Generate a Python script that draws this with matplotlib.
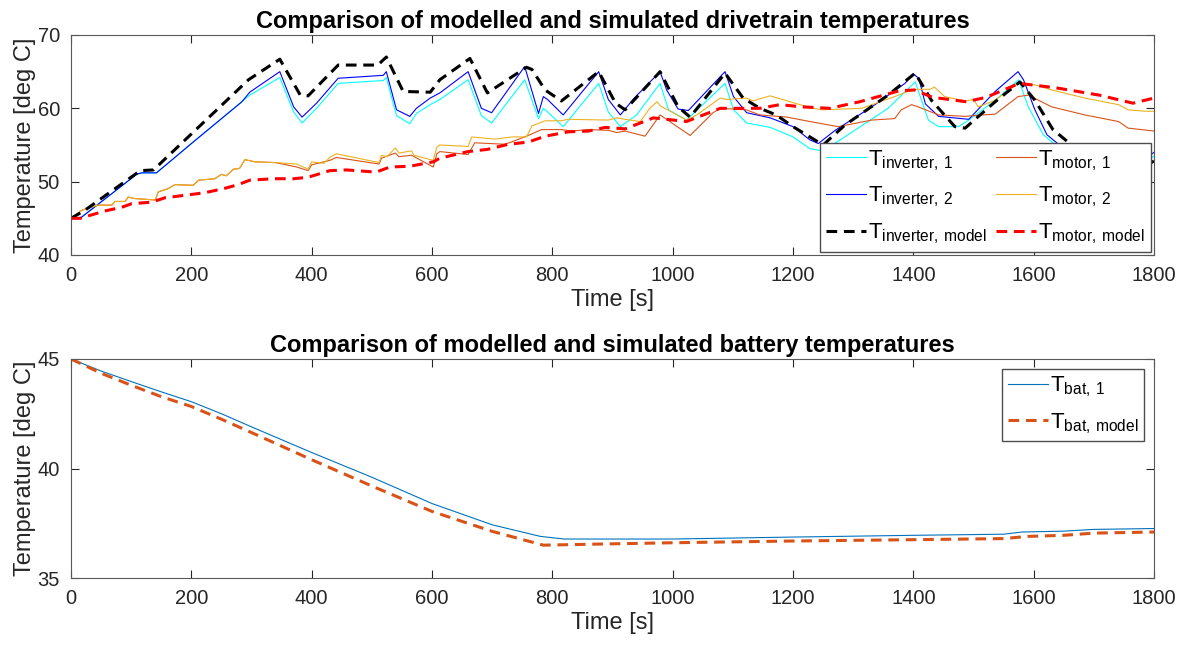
import matplotlib
matplotlib.use("Agg")
import matplotlib.pyplot as plt

plt.rcParams["font.family"] = ["Liberation Sans", "DejaVu Sans"]
plt.rcParams["mathtext.fontset"] = "custom"
plt.rcParams["mathtext.rm"] = "Liberation Sans"

# ---- drivetrain temperatures ----
t_inv1 = [0, 15, 109, 117, 142, 203, 284, 297, 347, 370, 384, 408, 444, 519, 524, 541, 563,
          574, 597, 613, 660, 682, 699, 754, 777, 785, 792, 818, 877, 893, 913, 940, 979,
          993, 1023, 1087, 1101, 1123, 1162, 1200, 1228, 1250, 1286, 1358, 1403, 1425,
          1442, 1475, 1492, 1536, 1575, 1591, 1616, 1680, 1760, 1800]
T_inv1 = [45, 45, 51.0, 51.2, 51.2, 55.4, 60.9, 61.8, 64.2, 59.5, 58.0, 60.0, 63.4, 63.8,
          64.2, 59.0, 57.9, 59.3, 60.5, 61.2, 63.9, 59.0, 58.0, 63.9, 58.6, 60.0, 59.5,
          57.5, 63.4, 59.5, 57.5, 59.1, 63.4, 59.8, 58.4, 63.4, 59.8, 58.0, 57.4, 56.1,
          54.5, 54.2, 56.1, 60.0, 63.6, 58.4, 57.5, 57.5, 58.4, 61.1, 63.9, 60.2, 56.4,
          52.0, 51.0, 53.5]

t_inv2 = [0, 15, 109, 117, 142, 203, 284, 297, 347, 370, 384, 408, 444, 519, 524, 541,
          563, 574, 597, 613, 660, 682, 699, 754, 777, 785, 792, 818, 877, 893, 913, 935,
          979, 990, 1009, 1026, 1087, 1101, 1123, 1162, 1200, 1228, 1242, 1270, 1331,
          1386, 1400, 1409, 1420, 1442, 1492, 1536, 1574, 1583, 1602, 1622, 1680, 1760,
          1800]
T_inv2 = [45, 45, 51.0, 51.2, 51.2, 55.4, 60.9, 62.2, 65.0, 60.2, 58.8, 60.7, 64.1, 64.5,
          65.0, 59.8, 58.9, 60.0, 61.4, 62.1, 65.0, 60.0, 59.4, 65.7, 59.3, 61.6, 61.2,
          59.1, 65.0, 61.2, 59.1, 61.3, 65.0, 62.5, 59.9, 59.7, 65.0, 61.6, 59.4, 58.7,
          57.5, 55.7, 55.2, 57.0, 60.2, 63.4, 64.7, 64.1, 60.6, 58.9, 58.5, 62.3, 65.0,
          63.9, 59.8, 56.4, 52.5, 51.5, 54.0]

t_inv_model = [0, 23, 115, 137, 295, 347, 381, 394, 444, 510, 524, 552, 597, 613, 663,
               692, 757, 766, 788, 815, 877, 905, 921, 979, 1009, 1029, 1087, 1117, 1145,
               1172, 1200, 1228, 1250, 1286, 1358, 1403, 1430, 1469, 1486, 1536, 1577,
               1602, 1632, 1700, 1770, 1800]
T_inv_model = [45, 46.1, 51.5, 51.6, 63.9, 66.7, 61.8, 61.7, 65.9, 65.9, 67.0, 62.3, 62.2,
               63.9, 66.8, 62.1, 65.6, 65.3, 62.5, 61.0, 65.0, 60.7, 59.8, 65.0, 60.2,
               58.8, 64.8, 61.4, 60.0, 59.1, 57.5, 56.1, 55.0, 57.7, 61.8, 64.8, 61.1,
               57.5, 57.3, 60.9, 63.6, 61.1, 57.1, 52.5, 51.5, 52.8]

t_mot1 = [0, 18, 45, 68, 73, 90, 95, 105, 140, 145, 160, 173, 203, 212, 239, 250, 258,
          270, 280, 289, 306, 340, 375, 394, 400, 430, 441, 512, 516, 539, 545, 566, 602,
          608, 613, 660, 671, 721, 735, 763, 782, 815, 832, 860, 893, 907, 921, 954, 979,
          1029, 1067, 1079, 1122, 1145, 1190, 1228, 1275, 1331, 1369, 1380, 1397, 1408,
          1442, 1486, 1514, 1536, 1574, 1591, 1630, 1685, 1741, 1757, 1779, 1800]
T_mot1 = [45, 46.1, 46.8, 46.8, 47.3, 47.3, 47.9, 47.7, 47.5, 48.6, 49.0, 49.6, 49.5, 50.2,
          50.4, 51.0, 50.8, 51.7, 51.8, 53.0, 52.7, 52.6, 52.0, 51.5, 52.3, 52.9, 53.3,
          52.4, 53.2, 53.9, 53.4, 53.6, 52.0, 53.8, 54.1, 53.7, 55.3, 55.1, 55.5, 56.4,
          57.1, 57.1, 56.9, 57.1, 57.0, 56.7, 56.9, 56.2, 59.1, 56.3, 59.4, 60.0, 59.8,
          59.1, 58.8, 58.2, 57.5, 58.4, 58.6, 59.8, 60.5, 60.2, 59.1, 58.9, 59.1, 59.2,
          61.6, 61.8, 60.2, 59.1, 58.2, 57.3, 57.1, 56.9]

t_mot2 = [0, 18, 45, 68, 73, 90, 95, 105, 140, 145, 160, 173, 203, 212, 239, 250, 258,
          270, 280, 289, 306, 340, 375, 394, 400, 420, 430, 441, 512, 516, 525, 539, 545,
          566, 570, 602, 608, 613, 660, 666, 705, 733, 757, 766, 788, 815, 826, 893, 907,
          921, 946, 962, 974, 980, 1023, 1040, 1079, 1090, 1122, 1134, 1145, 1162, 1228,
          1248, 1314, 1369, 1391, 1408, 1428, 1435, 1452, 1486, 1500, 1508, 1536, 1574,
          1602, 1630, 1685, 1741, 1757, 1785, 1800]
T_mot2 = [45, 46.1, 46.8, 46.8, 47.3, 47.3, 47.9, 47.7, 47.5, 48.6, 49.0, 49.6, 49.5, 50.2,
          50.4, 51.0, 50.8, 51.7, 51.8, 53.0, 52.7, 52.6, 52.4, 51.7, 52.7, 52.5, 53.3,
          53.8, 52.6, 53.6, 53.4, 54.6, 53.9, 54.2, 53.6, 52.9, 54.7, 55.0, 54.8, 56.1,
          55.8, 56.1, 56.1, 57.6, 58.3, 58.3, 58.5, 58.4, 58.7, 58.5, 58.2, 60.0, 60.9,
          60.3, 58.4, 59.1, 61.4, 61.2, 61.4, 61.0, 61.3, 61.7, 60.1, 59.8, 60.0, 61.6,
          62.3, 62.6, 62.6, 62.9, 61.6, 61.0, 61.2, 60.2, 61.1, 63.4, 63.2, 62.5, 61.4,
          60.5, 59.8, 59.6, 59.6]

t_mot_model = [0, 15, 56, 84, 101, 134, 156, 195, 223, 256, 278, 297, 336, 370, 394, 430,
               458, 507, 530, 563, 602, 613, 660, 692, 727, 760, 788, 827, 860, 888, 921,
               968, 1023, 1079, 1145, 1178, 1215, 1261, 1311, 1377, 1402, 1432, 1488,
               1521, 1576, 1637, 1709, 1765, 1800]
T_mot_model = [45, 45, 46.0, 46.5, 47.0, 47.2, 47.8, 48.2, 48.5, 49.1, 49.6, 50.2, 50.4,
               50.4, 50.6, 51.5, 51.6, 51.3, 52.0, 52.1, 52.7, 53.2, 54.1, 54.4, 55.1,
               55.4, 56.2, 56.8, 56.9, 57.4, 57.2, 58.7, 58.2, 60.0, 60.0, 60.5, 60.2,
               60.0, 60.9, 62.4, 62.5, 61.5, 60.9, 61.5, 63.4, 62.8, 61.8, 60.7, 61.4]

# ---- battery temperatures ----
t_bat1 = [0, 50, 100, 150, 200, 250, 300, 400, 500, 600, 700, 780, 820, 1000, 1200, 1400,
          1550, 1580, 1650, 1700, 1800]
T_bat1 = [45, 44.45, 43.97, 43.5, 43.05, 42.5, 41.9, 40.73, 39.6, 38.4, 37.43, 36.9, 36.78,
          36.78, 36.87, 36.95, 37.0, 37.1, 37.14, 37.22, 37.26]
t_bat_model = [0, 50, 100, 150, 200, 250, 300, 400, 500, 600, 700, 785, 878, 1000, 1200,
               1400, 1550, 1590, 1650, 1700, 1800]
T_bat_model = [45, 44.35, 43.8, 43.28, 42.83, 42.25, 41.64, 40.4, 39.2, 38.04, 37.13, 36.5,
               36.55, 36.61, 36.69, 36.75, 36.8, 36.9, 36.95, 37.05, 37.1]

x_ticks = list(range(0, 1801, 200))

fig = plt.figure(figsize=(11.88, 6.48), dpi=100)
ax1 = fig.add_axes([0.0598, 0.6065, 0.9116, 0.3395])
ax2 = fig.add_axes([0.0598, 0.108, 0.9116, 0.338])

dash = (3.5, 2.2)
l1, = ax1.plot(t_inv1, T_inv1, color="#00ffff", lw=0.8)
l2, = ax1.plot(t_inv2, T_inv2, color="#0000ff", lw=0.8)
l4, = ax1.plot(t_mot1, T_mot1, color="#D95319", lw=0.8)
l5, = ax1.plot(t_mot2, T_mot2, color="#EDB120", lw=0.8)
l3, = ax1.plot(t_inv_model, T_inv_model, color="black", lw=2.2, dashes=dash)
l6, = ax1.plot(t_mot_model, T_mot_model, color="red", lw=2.2, dashes=dash)

leg_style = dict(fontsize=16, fancybox=False, framealpha=1, edgecolor="0.3",
                 borderpad=0.25, labelspacing=0.55, handlelength=1.8,
                 handletextpad=0.1)

ax1.legend([l1, l2, l3, l4, l5, l6],
           [r"T$\mathregular{_{inverter,\,1}}$", r"T$\mathregular{_{inverter,\,2}}$",
            r"T$\mathregular{_{inverter,\,model}}$", r"T$\mathregular{_{motor,\,1}}$",
            r"T$\mathregular{_{motor,\,2}}$", r"T$\mathregular{_{motor,\,model}}$"],
           ncol=2, loc="lower right", columnspacing=0.4, borderaxespad=0.15,
           **leg_style)

ax2.plot(t_bat1, T_bat1, color="#0072BD", lw=0.8, label=r"T$\mathregular{_{bat,\,1}}$")
ax2.plot(t_bat_model, T_bat_model, color="#D95319", lw=2.2, dashes=dash,
         label=r"T$\mathregular{_{bat,\,model}}$")
ax2.legend(loc="upper right", borderaxespad=0.45, **leg_style)

ax1.set_ylim(40, 70)
ax1.set_yticks([40, 50, 60, 70])
ax1.set_title("Comparison of modelled and simulated drivetrain temperatures",
              fontsize=17, fontweight="bold", pad=5)
ax2.set_ylim(35, 45)
ax2.set_yticks([35, 40, 45])
ax2.set_title("Comparison of modelled and simulated battery temperatures",
              fontsize=17, fontweight="bold", pad=5)

for ax in (ax1, ax2):
    ax.set_xlim(0, 1800)
    ax.set_xticks(x_ticks)
    ax.set_xlabel("Time [s]", fontsize=17, color="0.15", labelpad=3)
    ax.set_ylabel("Temperature [deg C]", fontsize=17, color="0.15", labelpad=1)
    ax.tick_params(direction="in", top=True, right=True, length=6, width=0.8,
                   labelsize=14.5, colors="0.15", pad=8)
    for s in ax.spines.values():
        s.set_color("0.35")
        s.set_linewidth(0.8)

fig.savefig("out.png", dpi=100)
